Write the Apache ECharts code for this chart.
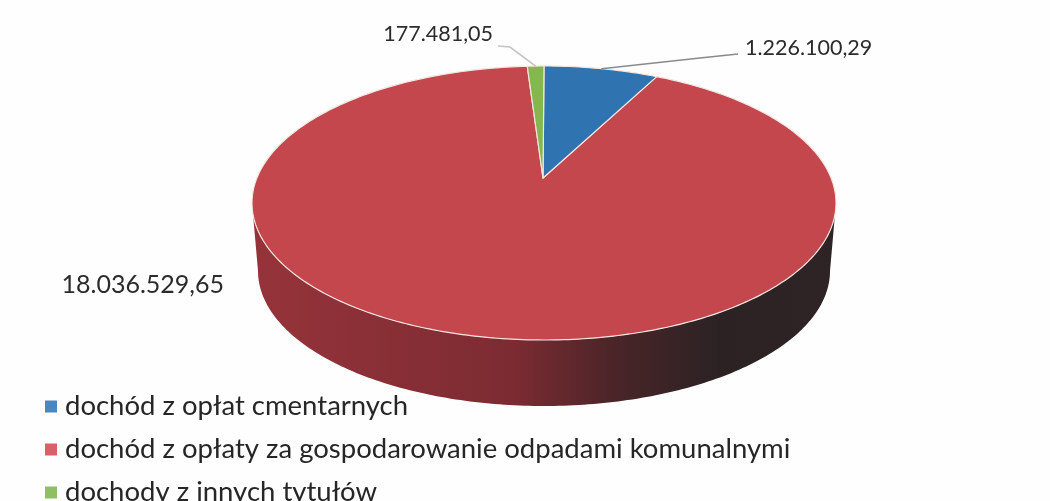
<!DOCTYPE html>
<html>
<head>
<meta charset="utf-8">
<script src="https://cdn.jsdelivr.net/npm/echarts@6/dist/echarts.min.js"></script>
<style>
  html, body { margin: 0; padding: 0; background: #fff; }
  #main { width: 1050px; height: 501px; }
</style>
</head>
<body>
<div id="main"></div>
<script>
var categories = [
    'dochód z opłat cmentarnych',
    'dochód z opłaty za gospodarowanie odpadami komunalnymi',
    'dochody z innych tytułów'
];
var values = [1226100.29, 18036529.65, 177481.05];
var sliceColors = ['#2f74b1', '#c4474d', '#84b84c'];
var legendColors = ['#4a86bf', '#d9606a', '#8fbf63'];

var total = values.reduce(function (a, b) { return a + b; }, 0);

// ellipse of the top face, the apex sits above its centre like in the excel 3d pie
var top3d = { cx: 544, cy: 203, rx: 292, ry: 137, apexX: 543, apexY: 178 };
var bottom3d = { cx: 544, cy: 271, rx: 286, ry: 135 };

// where the text of each value goes
var labelPos = [
    { x: 745, y: 48, align: 'left', size: 21.5, bend: [[738, 54], [700, 58]] },
    { x: 224, y: 285, align: 'right', size: 25, bend: null },
    { x: 493, y: 34, align: 'right', size: 21.5, bend: [[498, 46], [510, 47]] }
];

function formatValue(v) {
    var parts = v.toFixed(2).split('.');
    return parts[0].replace(/\B(?=(\d{3})+(?!\d))/g, '.') + ',' + parts[1];
}

function rimPoint(e, deg) {
    var a = deg * Math.PI / 180;
    return [e.cx + e.rx * Math.sin(a), e.cy - e.ry * Math.cos(a)];
}

function sliceRange(index) {
    var start = 0;
    for (var i = 0; i < index; i++) {
        start += values[i] / total * 360;
    }
    return [start, start + values[index] / total * 360];
}

function arcPoints(e, from, to) {
    var pts = [];
    var steps = Math.max(2, Math.ceil(Math.abs(to - from)));
    for (var i = 0; i <= steps; i++) {
        pts.push(rimPoint(e, from + (to - from) * i / steps));
    }
    return pts;
}

function renderSlice(index) {
    return function (params, api) {
        var range = sliceRange(index);
        var value = api.value(0);
        var children = [];

        // side wall, only the part facing the viewer
        var from = Math.max(range[0], 90);
        var to = Math.min(range[1], 270);
        if (to > from) {
            var wall = arcPoints(top3d, from, to).concat(arcPoints(bottom3d, to, from));
            children.push({
                type: 'polygon',
                shape: { points: wall },
                style: {
                    fill: new echarts.graphic.LinearGradient(0, 0, 1, 0, [
                        { offset: 0, color: '#96333a' },
                        { offset: 0.45, color: '#7c2b32' },
                        { offset: 0.62, color: '#4a2528' },
                        { offset: 0.8, color: '#2c2224' },
                        { offset: 1, color: '#2e2426' }
                    ])
                }
            });
        }

        var face = [[top3d.apexX, top3d.apexY]].concat(arcPoints(top3d, range[0], range[1]));
        children.push({
            type: 'polygon',
            shape: { points: face },
            style: { fill: sliceColors[index], stroke: '#f3e6e0', lineWidth: 1.2, lineJoin: 'round' }
        });

        var pos = labelPos[index];
        if (pos.bend) {
            var mid = rimPoint(top3d, (range[0] + range[1]) / 2);
            children.push({
                type: 'polyline',
                z2: 5,
                shape: { points: [mid].concat(pos.bend.slice().reverse()) },
                style: { fill: null, stroke: index === 0 ? '#8a8a8a' : '#c4c4c4', lineWidth: 1.6 }
            });
        }
        children.push({
            type: 'text',
            z2: 6,
            style: {
                x: pos.x,
                y: pos.y,
                text: formatValue(value),
                align: pos.align,
                verticalAlign: 'middle',
                fill: '#2b2b2b',
                font: pos.size + 'px Lato'
            }
        });

        return { type: 'group', children: children };
    };
}

var chartDom = document.getElementById('main');
var myChart = echarts.init(chartDom);

var series = [];
// red first, the thin slices are painted over it
[1, 0, 2].forEach(function (i) {
    series.push({
        name: categories[i],
        type: 'custom',
        coordinateSystem: 'none',
        silent: true,
        animation: false,
        itemStyle: { color: legendColors[i] },
        renderItem: renderSlice(i),
        data: [[values[i]]]
    });
});

var option = {
    backgroundColor: '#fefefe',
    animation: false,
    legend: {
        show: true,
        orient: 'vertical',
        left: 40,
        top: 385,
        height: 300,
        padding: 5,
        icon: 'rect',
        itemWidth: 12,
        itemHeight: 12,
        itemGap: 10,
        selectedMode: false,
        data: categories,
        textStyle: {
            fontFamily: 'Lato',
            fontSize: 27.5,
            lineHeight: 33,
            color: '#262626',
            padding: [0, 0, 0, 3]
        }
    },
    series: series
};
myChart.setOption(option);
</script>
</body>
</html>
